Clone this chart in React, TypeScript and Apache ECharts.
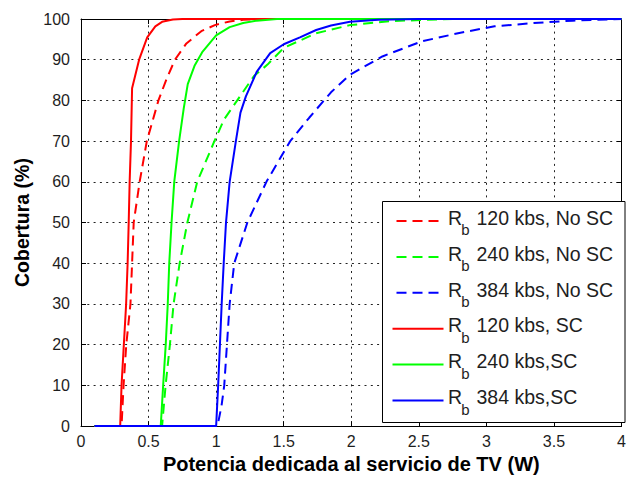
import React, { useEffect, useRef } from "react";
import * as echarts from "echarts";

// Coverage curves: [power (W), coverage (%)]
const redNoSC: [number, number][] = [
  [0.1, 0], [0.3, 0], [0.315, 10], [0.335, 20], [0.366, 30], [0.378, 40], [0.39, 50],
  [0.434, 60], [0.487, 70], [0.53, 75], [0.573, 80], [0.63, 85], [0.695, 90], [0.78, 94],
  [0.89, 97], [0.99, 98.5], [1.1, 99.4], [1.2, 99.8], [1.35, 100], [4, 100],
];
const greenNoSC: [number, number][] = [
  [0.1, 0], [0.6, 0], [0.626, 10], [0.658, 20], [0.685, 30], [0.73, 40], [0.787, 50],
  [0.86, 60], [0.987, 70], [1.06, 75.4], [1.16, 80.2], [1.28, 86], [1.38, 88.8], [1.5, 92.9],
  [1.74, 96.5], [1.99, 98.5], [2.3, 99.5], [2.75, 100], [4, 100],
];
const blueNoSC: [number, number][] = [
  [0.1, 0], [1.01, 0], [1.04, 5], [1.06, 10], [1.08, 20], [1.1, 30], [1.134, 40], [1.231, 50],
  [1.372, 60], [1.548, 70], [1.69, 75.8], [1.85, 82], [1.99, 86.3], [2.23, 90.8], [2.52, 94.5],
  [2.79, 96.5], [3.06, 98.2], [3.35, 99], [3.64, 99.6], [4, 100],
];
const redSC: [number, number][] = [
  [0.1, 0], [0.29, 0], [0.3, 10], [0.317, 20], [0.334, 30], [0.345, 40], [0.353, 50],
  [0.36, 60], [0.37, 70], [0.378, 83], [0.43, 90], [0.49, 95.5], [0.55, 98.2], [0.6, 99.3],
  [0.68, 99.9], [0.75, 100], [4, 100],
];
const greenSC: [number, number][] = [
  [0.1, 0], [0.59, 0], [0.608, 10], [0.627, 20], [0.642, 30], [0.653, 40], [0.67, 50],
  [0.69, 60], [0.726, 70], [0.76, 78], [0.79, 84], [0.84, 88.5], [0.9, 92], [1.0, 96],
  [1.1, 98], [1.2, 99], [1.3, 99.6], [1.45, 100], [4, 100],
];
const blueSC: [number, number][] = [
  [0.1, 0], [1.0, 0], [1.015, 10], [1.028, 20], [1.041, 30], [1.056, 40], [1.073, 50],
  [1.1, 60], [1.146, 70], [1.18, 77], [1.22, 81], [1.3, 87], [1.4, 91.6], [1.5, 93.8],
  [1.62, 95.5], [1.74, 97.3], [1.85, 98.4], [1.99, 99.3], [2.2, 99.8], [2.5, 100], [4, 100],
];

const curveData = [redNoSC, greenNoSC, blueNoSC, redSC, greenSC, blueSC];
const curveLabels = [
  "120 kbs, No SC",
  "240 kbs, No SC",
  "384 kbs, No SC",
  "120 kbs, SC",
  "240 kbs,SC",
  "384 kbs,SC",
];
const curveColors = ["#ff0000", "#00ff00", "#0000ff", "#ff0000", "#00ff00", "#0000ff"];
const curveDashed = [true, true, true, false, false, false];

const FONT = '"Liberation Sans", Arial, Helvetica, sans-serif';
const DASH = [10, 6];
const TEXT = "#1e1e1e";

export default function App() {
  const ref = useRef<HTMLDivElement>(null);

  useEffect(() => {
    if (!ref.current) return;
    const chart = echarts.init(ref.current, undefined, { renderer: "svg" });

    const gridLine = {
      show: true,
      lineStyle: { color: "#222", width: 1, type: [2, 4.3], opacity: 1 },
    };
    const tick = { show: true, inside: true, length: 5, lineStyle: { color: "#000" } };
    const line = { show: true, onZero: false, lineStyle: { color: "#000", width: 1 } };
    const label = { fontFamily: FONT, fontSize: 16, color: TEXT };

    // Legend box drawn as graphic elements
    const boxX = 382.5;
    const boxY = 201.5;
    const rowY0 = 221;
    const rowStep = 35.9;
    const legendEls: any[] = [
      {
        type: "rect",
        shape: { x: boxX, y: boxY, width: 242.5, height: 221 },
        style: { fill: "#fff", stroke: "#000", lineWidth: 1 },
        z: 100,
      },
    ];
    curveLabels.forEach((txt, i) => {
      const ly = rowY0 + i * rowStep;
      legendEls.push({
        type: "line",
        shape: { x1: curveDashed[i] ? 396.5 : 392.5, y1: ly, x2: 443.5, y2: ly },
        style: {
          stroke: curveColors[i],
          lineWidth: 2,
          lineDash: curveDashed[i] ? DASH : null,
        },
        z: 101,
      });
      legendEls.push({
        type: "text",
        x: 448,
        y: ly - 3.3,
        style: {
          text: "R",
          font: `19.5px ${FONT}`,
          fill: TEXT,
          verticalAlign: "middle",
        },
        z: 101,
      });
      legendEls.push({
        type: "text",
        x: 461.3,
        y: ly + 8.5,
        style: {
          text: "b",
          font: `15px ${FONT}`,
          fill: TEXT,
          verticalAlign: "middle",
        },
        z: 101,
      });
      legendEls.push({
        type: "text",
        x: 476.5,
        y: ly - 3.3,
        style: {
          text: txt,
          font: `19.5px ${FONT}`,
          fill: TEXT,
          verticalAlign: "middle",
        },
        z: 101,
      });
    });

    chart.setOption({
      animation: false,
      backgroundColor: "#fff",
      grid: { left: 81, top: 19, right: 0.5, bottom: 50, containLabel: false },
      xAxis: [
        {
          type: "value",
          min: 0,
          max: 4,
          interval: 0.5,
          position: "bottom",
          axisLine: line,
          axisTick: tick,
          axisLabel: { ...label, margin: 7, showMaxLabel: true },
          splitLine: gridLine,
          name: "Potencia dedicada al servicio de TV (W)",
          nameLocation: "middle",
          nameGap: 27,
          nameTextStyle: { fontFamily: FONT, fontSize: 20, fontWeight: "bold", color: "#000" },
        },
        {
          type: "value",
          min: 0,
          max: 4,
          interval: 0.5,
          position: "top",
          axisLine: line,
          axisTick: tick,
          axisLabel: { show: false },
          splitLine: { show: false },
        },
      ],
      yAxis: [
        {
          type: "value",
          min: 0,
          max: 100,
          interval: 10,
          position: "left",
          axisLine: line,
          axisTick: tick,
          axisLabel: { ...label, margin: 11 },
          splitLine: gridLine,
          name: "Cobertura (%)",
          nameLocation: "middle",
          nameGap: 46,
          nameTextStyle: { fontFamily: FONT, fontSize: 19.5, fontWeight: "bold", color: "#000" },
        },
        {
          type: "value",
          min: 0,
          max: 100,
          interval: 10,
          position: "right",
          axisLine: line,
          axisTick: tick,
          axisLabel: { show: false },
          splitLine: { show: false },
        },
      ],
      series: curveData.map((d, i) => ({
        type: "line",
        name: "Rb " + curveLabels[i],
        data: d,
        xAxisIndex: 0,
        yAxisIndex: 0,
        showSymbol: false,
        symbol: "none",
        lineStyle: {
          color: curveColors[i],
          width: 2,
          type: curveDashed[i] ? DASH : "solid",
        },
        itemStyle: { color: curveColors[i] },
        z: 2 + i,
      })),
      graphic: legendEls,
    });

    return () => chart.dispose();
  }, []);

  return (
    <div
      ref={ref}
      style={{ position: "absolute", left: 0, top: 0, width: 629, height: 479 }}
    />
  );
}
